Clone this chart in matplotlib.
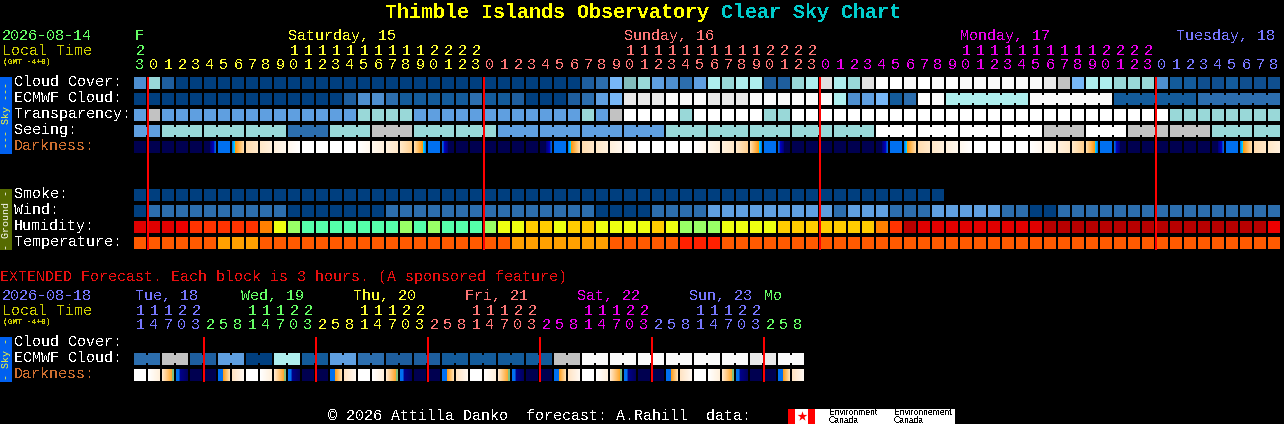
# -*- coding: utf-8 -*-
import numpy as np
import matplotlib
matplotlib.use('Agg')
import matplotlib.pyplot as plt
from matplotlib.colors import to_rgb
from matplotlib.patches import Rectangle

# cell colour codes, one letter per block
CLOUD = ("fjd" "aaaaaaaaaaaaaaaaaaaaaaaaaaaaa" "de" "hijgfegkjkkddjkmkj"
         "mppopopoooooonlhkkjjjfccbbcbbb")
ECMWF = ("aaaaaaaaaaaaaaa" "dffeccccc" "eccdaaadegh" "nnnooonnnoooooo"
         "kfghcepo" "kkkkkk" "oooooo" "cccccc" "eeeeee")
TRANSPARENCY = ("gl" "gggggggggggggg" "jjjj" "gggggggggggg" "jgl" "pppp" "j" "ppppp" "jj"
                "ppppppppppppppppppppppppppp" "jjjjjjjj")
SEEING = ("gg" "jjjjjjjjj" "eee" "jjj" "lll" "jjjjjj" "gggggggggggg" "jjjjjjjjjjjjjjj"
          "pppppppppppp" "lll" "ppp" "llllll" "jjj" "jj")
DARKNESS = ("nnnnn" "ub" "d1234wwww5678e" "bv" "nnnnnn" "ub" "d1234wwww5678e" "bv" "nnnnnn"
            "ub" "d1234wwww5678e" "bv" "nnnnnn" "ub" "d12")
SMOKE = "aaaaaaaaaaaaaaaaaaaaaaaaaaaaaaaaaaaaaaaaaaaaaaaaaaaaaaaaaa"
WIND = ("a" "eeeeeeeeee" "aaaaaaa" "eee" "eeeeeeeeeeee" "aaaa" "eeee" "ggggggggg" "e" "ggg"
        "eee" "ggggg" "ee" "aa" "eeeeeeeeeeeeeeee")
HUMIDITY = ("BBBA" "DDDDD" "EGH" "IIIIIII" "HIH" "III" "HGGFFGFF" "GGGG" "FG" "HHH" "GGGG"
            "FFFFFFF" "EDC" "BBBBBBBBB" "CCCCCCCCCCCCCCCC" "A")
TEMPERATURE = ("TTTTTT" "UUU" "TTTTTTTTTTTTTTTTTT" "UUUUUUU" "TTTTT" "VVV"
               "TTTTTTTTTTTTTTTTTTTTTTTTTTTTTTTTTTTTTTTT")

SEEING_GROUPS = [2] + [3] * 26 + [2]
ECMWF_GROUPS = [1] * 58 + [6, 6, 6, 6]

EXT_ECMWF = "eelldd" "ggaakk" "ccggee" "ddddcc" "ccccccll" "oooooooooooo" "nnoo"
EXT_GROUPS = [2] * 24
EXT_DARKNESS = "wpqrnnst" "wpqrnnst" "wpqrnnst" "wpqrnnst" "wpqrnnst" "wpqrnnst"

HOURS = "3" "012345678901234567890123" "012345678901234567890123" "012345678901234567890123" "012345678"
TENS = "2" "          11111111112222" "          11111111112222" "          11111111112222" "         "
DAYS = "f" "yyyyyyyyyyyyyyyyyyyyyyyy" "ssssssssssssssssssssssss" "mmmmmmmmmmmmmmmmmmmmmmmm" "bbbbbbbbb"

EXT_HOURS = "14703" "25814703" "25814703" "25814703" "25814703" "25814703" "258"
EXT_TENS = "11122" "   11122" "   11122" "   11122" "   11122" "   11122" "   "
EXT_DAYS = "bbbbb" "ffffffff" "yyyyyyyy" "ssssssss" "mmmmmmmm" "bbbbbbbb" "fff"

assert all(len(r) == 82 for r in (CLOUD, ECMWF, TRANSPARENCY, SEEING, DARKNESS, WIND, HUMIDITY,
                                  TEMPERATURE, HOURS, TENS, DAYS))
assert all(len(r) == 48 for r in (EXT_ECMWF, EXT_DARKNESS, EXT_HOURS, EXT_TENS, EXT_DAYS))

DAY_LABELS = [("F", 135, 'f'), ("Saturday, 15", 288, 'y'), ("Sunday, 16", 624, 's'),
              ("Monday, 17", 960, 'm'), ("Tuesday, 18", 1176, 'b')]
EXT_DAY_LABELS = [("Tue, 18", 135, 'b'), ("Wed, 19", 241, 'f'), ("Thu, 20", 353, 'y'),
                  ("Fri, 21", 465, 's'), ("Sat, 22", 577, 'm'), ("Sun, 23", 689, 'b'), ("Mo", 764, 'f')]

PALETTE = {'a': '#003f7f', 'b': '#0f4f8f', 'c': '#135b9b', 'd': '#1e5e9e', 'e': '#2c6eae',
           'f': '#4e8fcf', 'g': '#5f9fe0', 'h': '#77b7f7', 'i': '#82bcbc', 'j': '#99d8d8',
           'k': '#aeeeee', 'l': '#c2c2c2', 'm': '#e0e0e0', 'n': '#e9e9e9', 'o': '#fafafa',
           'p': '#ffffff',
           'A': '#ee0000', 'B': '#e00000', 'C': '#b80000', 'D': '#ff3300', 'E': '#ff8000',
           'F': '#ffcc00', 'G': '#eeff11', 'H': '#99ff66', 'I': '#55ffaa',
           'T': '#ff5a00', 'U': '#ffa000', 'V': '#ff2000'}
DAY_COLORS = {'f': '#66ff66', 'y': '#ffff33', 's': '#ff7777', 'm': '#ee00ee', 'b': '#7777ff'}

NAVY, BLUE, WHITE = '#000050', '#0070f0', '#ffffff'


def seg(*parts):
    # parts are (from colour, to colour, pixels); 12 pixels make one block
    out = []
    for c1, c2, n in parts:
        out.append(np.linspace(to_rgb(c1), to_rgb(c2), n))
    return np.concatenate(out)[None, :, :]


DARK_CELLS = {
    'n': seg((NAVY, NAVY, 12)),
    'u': seg((NAVY, NAVY, 6), ('#000080', '#0000c0', 4), ('#0040d0', '#0060e0', 2)),
    'v': seg(('#0060e0', '#0040d0', 2), ('#0000c0', '#000080', 4), (NAVY, NAVY, 6)),
    'b': seg((BLUE, BLUE, 12)),
    'd': seg(('#0080f8', '#00d0ff', 3), ('#ff9a10', '#ffdca8', 9)),
    'e': seg(('#ffdca8', '#ff9a10', 9), ('#00d0ff', '#0080f8', 3)),
    '1': seg(('#ffdcb0', '#ffe8c8', 12)),
    '2': seg(('#ffe8c8', '#fff0dc', 12)),
    '3': seg(('#fff0dc', '#fff8ee', 12)),
    '4': seg(('#fff8ee', '#ffffff', 12)),
    '5': seg(('#ffffff', '#fff8ee', 12)),
    '6': seg(('#fff8ee', '#fff0dc', 12)),
    '7': seg(('#fff0dc', '#ffe8c8', 12)),
    '8': seg(('#ffe8c8', '#ffd090', 12)),
    'w': seg((WHITE, WHITE, 12)),
    'p': seg((WHITE, '#fff0dc', 12)),
    'q': seg(('#ffe8cc', '#ffa830', 10), ('#80c080', '#80c080', 2)),
    'r': seg((BLUE, BLUE, 3), ('#0040c0', '#0040c0', 1), ('#00008a', '#000060', 8)),
    's': seg((BLUE, BLUE, 5), ('#ffa020', '#ffe0b0', 7)),
    't': seg(('#ffe4c4', '#fff8f0', 12)),
}

X0, PITCH, CELL = 134, 14, 12

plt.rcParams['font.family'] = ['Liberation Mono', 'DejaVu Sans Mono']
plt.rcParams['text.antialiased'] = False
plt.rcParams['text.hinting'] = 'native'

fig = plt.figure(figsize=(12.84, 4.24), dpi=100, facecolor='black')
ax = fig.add_axes([0, 0, 1, 1])
ax.set_facecolor('black')


def box(x, y, w, h, color, z=1):
    ax.add_patch(Rectangle((x, y), w, h, facecolor=color, edgecolor='none', zorder=z))


def txt(x, y, s, color='white', px=15, **kw):
    ax.text(x, y, s, color=color, fontsize=px * 0.72, va='baseline', **kw)


def draw_row(codes, y, groups=None):
    for i, code in enumerate(codes):
        box(X0 + i * PITCH, y, CELL, CELL, PALETTE[code])
    if groups is None:
        return
    start = 0
    for n in groups:
        # blocks of one forecast period are joined by a narrower bridge
        for i in range(start, start + n - 1):
            box(X0 + i * PITCH + CELL, y + 2, PITCH - CELL, CELL - 4, PALETTE[codes[i]])
        start += n


def draw_darkness(codes, y):
    for i, code in enumerate(codes):
        x = X0 + i * PITCH
        ax.imshow(DARK_CELLS[code], extent=(x, x + CELL, y + CELL, y), aspect='auto',
                  interpolation='nearest', zorder=1)


def draw_digits(digits, tens, days, y_digits, y_tens):
    for i, (d, t, k) in enumerate(zip(digits, tens, days)):
        xc = X0 + 6 + i * PITCH
        txt(xc, y_digits, d, DAY_COLORS[k], ha='center')
        if t != ' ':
            txt(xc, y_tens, t, DAY_COLORS[k], ha='center')


def side_label(yc, s, color):
    txt(9, yc, s, color, px=10, rotation=90, ha='center', rotation_mode='anchor', antialiased=True)


# title
txt(385, 18, "Thimble Islands Observatory", '#ffff00', px=20, fontweight='bold')
txt(721, 18, "Clear Sky Chart", '#00cccc', px=20, fontweight='bold')

# main header
txt(2, 40, "2026-08-14", DAY_COLORS['f'])
txt(2, 55, "Local Time", '#cccc00')
txt(3, 64, "(GMT -4+0)", '#cccc00', px=8, fontweight='bold')
for label, x, k in DAY_LABELS:
    txt(x, 40, label, DAY_COLORS[k])
draw_digits(HOURS, TENS, DAYS, 69, 55)

# sky block
box(0, 77, 12, 77, '#0060f0')
side_label(115, "--- Sky ---", '#ffff33')
for label, y, color in [("Cloud Cover:", 86, 'white'), ("ECMWF Cloud:", 102, 'white'),
                        ("Transparency:", 118, 'white'), ("Seeing:", 134, 'white'),
                        ("Darkness:", 150, '#d07030')]:
    txt(14, y, label, color)
draw_row(CLOUD, 77)
draw_row(ECMWF, 93, ECMWF_GROUPS)
draw_row(TRANSPARENCY, 109)
draw_row(SEEING, 125, SEEING_GROUPS)
draw_darkness(DARKNESS, 141)

# ground block
box(0, 189, 12, 61, '#566b00')
side_label(219.5, "- Ground -", 'white')
for label, y in [("Smoke:", 198), ("Wind:", 214), ("Humidity:", 230), ("Temperature:", 246)]:
    txt(14, y, label)
draw_row(SMOKE, 189)
draw_row(WIND, 205)
draw_row(HUMIDITY, 221)
draw_row(TEMPERATURE, 237)

for x in [147, 483, 819, 1155]:
    box(x, 77, 2, 173, '#ff0000', z=3)

# extended forecast
txt(0, 281, "EXTENDED Forecast. Each block is 3 hours. (A sponsored feature)", '#e81010')
txt(2, 300, "2026-08-18", DAY_COLORS['b'])
txt(2, 315, "Local Time", '#cccc00')
txt(3, 324, "(GMT -4+0)", '#cccc00', px=8, fontweight='bold')
for label, x, k in EXT_DAY_LABELS:
    txt(x, 300, label, DAY_COLORS[k])
draw_digits(EXT_HOURS, EXT_TENS, EXT_DAYS, 329, 315)

box(0, 337, 12, 45, '#0060f0')
side_label(359, "- Sky -", '#ffff33')
for label, y, color in [("Cloud Cover:", 346, 'white'), ("ECMWF Cloud:", 362, 'white'),
                        ("Darkness:", 378, '#d07030')]:
    txt(14, y, label, color)
draw_row(EXT_ECMWF, 353, EXT_GROUPS)
draw_darkness(EXT_DARKNESS, 369)

for x in [203, 315, 427, 539, 651, 763]:
    box(x, 337, 2, 45, '#ff0000', z=3)

# footer and logo
txt(328, 420, "\u00a9 2026 Attilla Danko  forecast: A.Rahill  data:")
box(788, 409, 167, 15, 'white')
box(788, 409, 7, 15, '#ff0000', z=2)
box(808, 409, 7, 15, '#ff0000', z=2)
ax.scatter([801.5], [416], marker='*', s=55, color='#ff0000', linewidths=0, zorder=2)
for x, word in [(829, "Environment"), (894, "Environnement")]:
    ax.text(x, 415, word, color='black', fontsize=6.2, family='Liberation Sans', va='baseline', zorder=2)
    ax.text(x, 423, "Canada", color='black', fontsize=6.2, family='Liberation Sans', va='baseline', zorder=2)

ax.set_xlim(0, 1284)
ax.set_ylim(424, 0)
ax.axis('off')

fig.savefig('out.png', dpi=100, facecolor='black')
